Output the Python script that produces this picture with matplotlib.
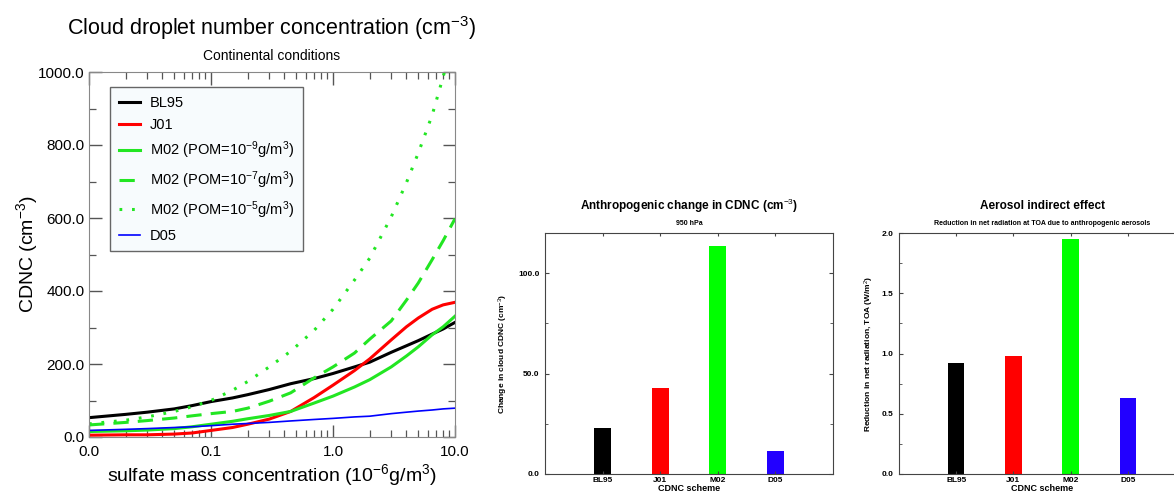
import numpy as np
import matplotlib
matplotlib.use("Agg")
import matplotlib.pyplot as plt
from matplotlib.ticker import FixedLocator, FuncFormatter, MultipleLocator, NullFormatter

plt.rcParams['font.family'] = ['Liberation Sans', 'DejaVu Sans']
plt.rcParams['mathtext.fontset'] = 'custom'
plt.rcParams['mathtext.rm'] = 'Liberation Sans'
plt.rcParams['mathtext.default'] = 'rm'

# --- left panel: CDNC vs sulfate mass ---
sulfate = [0.01, 0.02, 0.03, 0.05, 0.07, 0.1, 0.15, 0.2, 0.3, 0.45,
           0.7, 1.0, 1.5, 2.0, 3.0, 4.0, 5.0, 6.5, 8.0, 10.0]
bl95 = [53, 62, 68, 77, 86, 97, 107, 116, 130, 146,
        160, 174, 192, 205, 232, 250, 264, 282, 296, 314]
j01 = [5, 6, 6, 8, 11, 18, 26, 35, 49, 70,
       108, 142, 182, 214, 266, 302, 326, 350, 362, 369]
m02_pom9 = [15, 17, 19, 23, 28, 35, 43, 50, 59, 70,
            93, 112, 137, 157, 192, 222, 247, 280, 302, 331]
m02_pom7 = [33, 40, 45, 52, 58, 64, 70, 79, 98, 121,
            162, 192, 230, 268, 318, 375, 422, 486, 538, 598]
m02_pom5 = [36, 46, 55, 70, 83, 100, 128, 152, 192, 235,
            292, 350, 430, 490, 603, 697, 778, 882, 987, 1110]
d05 = [18, 21, 23, 26, 28, 31, 35, 37, 40, 44,
       48, 51, 55, 57, 64, 68, 71, 74, 77, 79]

# --- bar panels ---
schemes = ['BL95', 'J01', 'M02', 'D05']
bar_colors = ['#000000', '#ff0000', '#00ff00', '#2200ff']
cdnc_change = [22.9, 43.0, 113.4, 11.4]
indirect_effect = [0.92, 0.98, 1.95, 0.63]

green = '#22e622'

fig = plt.figure(figsize=(11.74, 4.97), dpi=100)

# left panel
ax = fig.add_axes([89/1174, 60/497, 366/1174, 365/497])
ax.plot(sulfate, bl95, color='black', lw=2.2, label='BL95')
ax.plot(sulfate, j01, color='#ff0000', lw=2.2, label='J01')
ax.plot(sulfate, m02_pom9, color=green, lw=2.2, label='M02 (POM=10$^{-9}$g/m$^3$)')
ax.plot(sulfate, m02_pom7, color=green, lw=2.2, dashes=(5, 3), label='M02 (POM=10$^{-7}$g/m$^3$)')
ax.plot(sulfate, m02_pom5, color=green, lw=2.2, dashes=(0.9, 3.2), label='M02 (POM=10$^{-5}$g/m$^3$)')
ax.plot(sulfate, d05, color='#0000ff', lw=1.2, label='D05')
ax.set_xscale('log')
ax.set_xlim(0.01, 10)
ax.set_ylim(0, 1000)
ax.xaxis.set_major_locator(FixedLocator([0.01, 0.1, 1, 10]))
ax.xaxis.set_major_formatter(FuncFormatter(lambda v, p: '0.0' if v < 0.05 else '%.1f' % v))
minor_x = [m * 10.0 ** e for e in (-2, -1, 0) for m in range(2, 10)]
ax.xaxis.set_minor_locator(FixedLocator(minor_x))
ax.xaxis.set_minor_formatter(NullFormatter())
ax.yaxis.set_major_locator(MultipleLocator(200))
ax.yaxis.set_minor_locator(MultipleLocator(100))
ax.yaxis.set_major_formatter(FuncFormatter(lambda v, p: '%.1f' % v))
ax.tick_params(which='both', direction='in', top=True, right=True, labelsize=11, color='#555555')
ax.tick_params(which='major', length=9, width=1.0)
ax.tick_params(axis='x', which='major', pad=6)
ax.tick_params(axis='y', which='major', pad=3)
ax.tick_params(which='minor', length=5, width=0.9)
for s in ax.spines.values():
    s.set_color('#888888')
ax.set_xlabel('sulfate mass concentration (10$^{-6}$g/m$^3$)', fontsize=14)
ax.xaxis.set_label_coords(0.5, -0.07)
ax.set_ylabel('CDNC (cm$^{-3}$)', fontsize=14)
ax.yaxis.set_label_coords(-0.135, 0.5)
ax.text(0.5, 1.12, 'Cloud droplet number concentration (cm$^{-3}$)', transform=ax.transAxes,
        ha='center', va='center', fontsize=15.5)
ax.text(0.5, 1.044, 'Continental conditions', transform=ax.transAxes,
        ha='center', va='center', fontsize=10)
leg = ax.legend(loc='upper left', bbox_to_anchor=(0.057, 0.959), borderaxespad=0,
                fontsize=10.5, fancybox=False, handlelength=1.45, labelspacing=0.55,
                borderpad=0.6, handletextpad=0.7)
leg.get_frame().set_facecolor('#f7fbfd')
leg.get_frame().set_edgecolor('#666666')
leg.get_frame().set_alpha(1)


def bar_panel(rect, values, ylim, major, minor, ylabel, title, subtitle):
    bx = fig.add_axes(rect)
    pos = np.arange(1, len(schemes) + 1)
    bx.bar(pos, values, width=0.29, color=bar_colors)
    bx.set_xlim(0, 5)
    bx.set_ylim(*ylim)
    bx.set_xticks(pos)
    bx.set_xticklabels(schemes, fontsize=6, fontweight='bold')
    bx.yaxis.set_major_locator(MultipleLocator(major))
    bx.yaxis.set_minor_locator(MultipleLocator(minor))
    bx.yaxis.set_major_formatter(FuncFormatter(lambda v, p: '%.1f' % v))
    for lab in bx.get_yticklabels():
        lab.set_fontweight('bold')
    bx.tick_params(which='both', direction='in', top=True, right=True, labelsize=6, color='#444444')
    bx.tick_params(axis='x', length=2, pad=2)
    bx.tick_params(axis='y', which='major', length=3, pad=4)
    bx.tick_params(axis='y', which='minor', length=2)
    for s in bx.spines.values():
        s.set_color('#444444')
    bx.set_xlabel('CDNC scheme', fontsize=6.5, fontweight='bold', labelpad=0)
    bx.set_ylabel(ylabel, fontsize=6, fontweight='bold')
    bx.text(0.5, 1.112, title, transform=bx.transAxes, ha='center', va='center',
            fontsize=8.5, fontweight='bold')
    bx.text(0.5, 1.041, subtitle, transform=bx.transAxes, ha='center', va='center',
            fontsize=5, fontweight='bold')
    return bx


mid = bar_panel([545/1174, 23/497, 288/1174, 241/497], cdnc_change, (0, 120), 50, 25,
                'Change in cloud CDNC (cm$^{-3}$)', 'Anthropogenic change in CDNC (cm$^{-3}$)', '950 hPa')
mid.yaxis.set_label_coords(-0.12, 0.5)

right = bar_panel([899/1174, 23/497, 286/1174, 241/497], indirect_effect, (0, 2.0), 0.5, 0.25,
                  'Reduction in net radiation, TOA (W/m$^2$)', 'Aerosol indirect effect',
                  'Reduction in net radiation at TOA due to anthropogenic aerosols')
right.yaxis.set_label_coords(-0.08, 0.5)

fig.savefig('out.png', dpi=100)
